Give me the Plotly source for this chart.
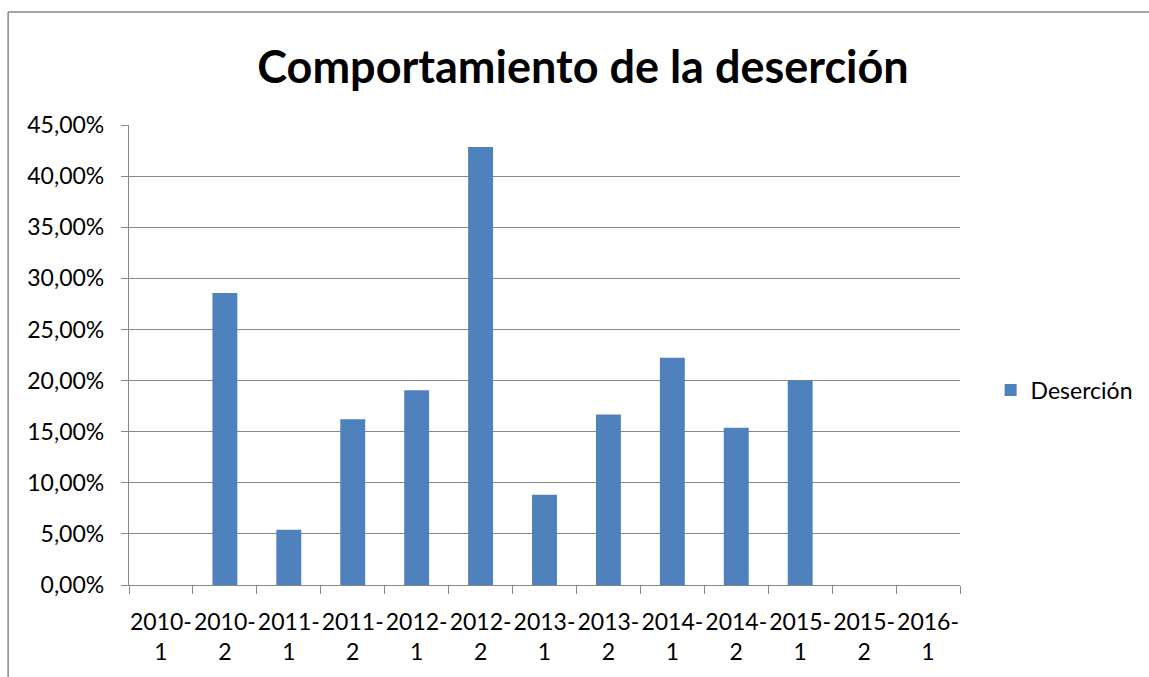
import plotly.graph_objects as go

categories = ["2010-<br>1", "2010-<br>2", "2011-<br>1", "2011-<br>2", "2012-<br>1", "2012-<br>2",
              "2013-<br>1", "2013-<br>2", "2014-<br>1", "2014-<br>2", "2015-<br>1", "2015-<br>2",
              "2016-<br>1"]
desercion = [0, 28.57, 5.41, 16.22, 19.05, 42.86, 8.82, 16.67, 22.22, 15.38, 20.0, 0, 0]
series_name = "Deserción"
title_text = "Comportamiento de la deserción"

W, H = 1149, 677
# plot area in window pixels
L, R, T, B = 129, 961, 125, 585

fig = go.Figure()
fig.add_trace(go.Bar(x=categories, y=desercion, name=series_name,
                     marker=dict(color="#4F81BD", line=dict(width=0)),
                     showlegend=True))

grid = "#878787"
fig.update_layout(
    width=W, height=H,
    margin=dict(l=L, r=W - R, t=T, b=H - B, pad=0),
    paper_bgcolor="white", plot_bgcolor="white",
    font=dict(family="Lato", size=22, color="black"),
    separators=", ",
    bargap=0.61,
    title=dict(text="<b>" + title_text + "</b>", x=583 / W, xanchor="center",
               y=1 - 67 / H, yanchor="middle", font=dict(size=45, color="black")),
    legend=dict(x=1.0356, xanchor="left", y=0.424, yanchor="middle",
                font=dict(size=23), itemsizing="constant", bgcolor="rgba(0,0,0,0)"),
    xaxis=dict(type="category", showline=True, linecolor=grid, linewidth=1.3,
               ticks="outside", tickson="boundaries", ticklen=8, tickcolor=grid,
               tickwidth=1.3, tickangle=0, showgrid=False, tickfont=dict(size=23),
               ticklabelstandoff=16),
    yaxis=dict(range=[0, 45], dtick=5, tickformat=".2f", ticksuffix="%",
               showline=True, linecolor=grid, linewidth=1.3,
               ticks="outside", ticklen=7, tickcolor=grid, tickwidth=1.3,
               showgrid=True, gridcolor=grid, gridwidth=1.3, zeroline=False,
               tickfont=dict(size=23), ticklabelstandoff=12),
)

# outer chart frame (only left and top edges visible; cropped at right and bottom)
fx0 = (8 - L) / (R - L)
fx1 = (W + 20 - L) / (R - L)
fy0 = (B - (H + 20)) / (B - T)
fy1 = (B - 12) / (B - T)
fig.add_shape(type="line", xref="paper", yref="paper", x0=fx0, x1=fx0, y0=fy0, y1=fy1,
              line=dict(color=grid, width=1.5), layer="below")
fig.add_shape(type="line", xref="paper", yref="paper", x0=fx0, x1=fx1, y0=fy1, y1=fy1,
              line=dict(color=grid, width=1.5), layer="below")

fig.write_html("out.html", config={"displayModeBar": False},
               post_script="document.body.style.margin='0';document.body.style.overflow='hidden';")
